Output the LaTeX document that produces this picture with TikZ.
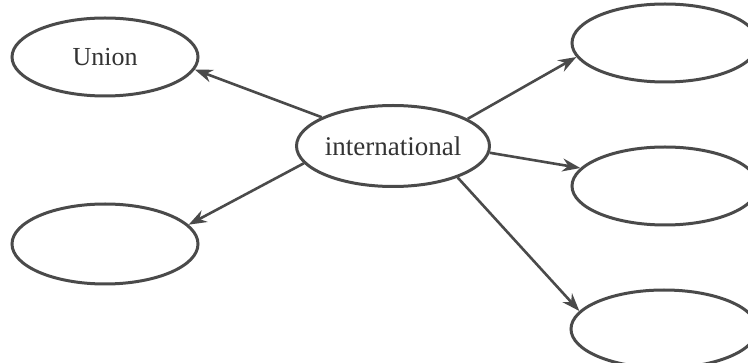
\documentclass[tikz,border=0pt]{standalone}
\usepackage{fontspec}
\setmainfont{Liberation Serif}
\usepackage{xcolor}
\usetikzlibrary{shapes.geometric,arrows.meta}
\definecolor{inkgray}{HTML}{4A4A4A}
\definecolor{textgray}{HTML}{333333}
\begin{document}
\begin{tikzpicture}[x=1pt,y=-1pt,
  bubble/.style={ellipse,draw=inkgray,line width=3pt,inner sep=0pt,
    minimum width=186pt,minimum height=78pt,text=textgray,
    font=\fontsize{26}{31}\selectfont},
  link/.style={draw=inkgray,line width=2.6pt,-{Stealth[length=18pt,width=13pt]}}]
%\draw[color=black!20,step=20] (0,0) grid (748,363);
\useasboundingbox (0,0) rectangle (748,363);
\clip (0,0) rectangle (748,363);
\node[bubble] (union) at (105,57) {Union};
\node[bubble] (topright) at (665,43) {};
\node[bubble,minimum width=188pt,minimum height=81pt,font=\fontsize{27}{32}\selectfont] (inter) at (393,146) {international};
\node[bubble] (midright) at (665,186) {};
\node[bubble,minimum height=80pt] (botleft) at (105,244) {};
\node[bubble] (botright) at (664,329) {};
\draw[link] (inter.158) -- (union.-8);
\draw[link] (inter.20) -- (topright.189);
\draw[link] (inter.-4) -- (midright.168);
\draw[link] (inter.191) -- (botleft.13);
\draw[link] (inter.-26) -- (botright.168);
\end{tikzpicture}
\end{document}
